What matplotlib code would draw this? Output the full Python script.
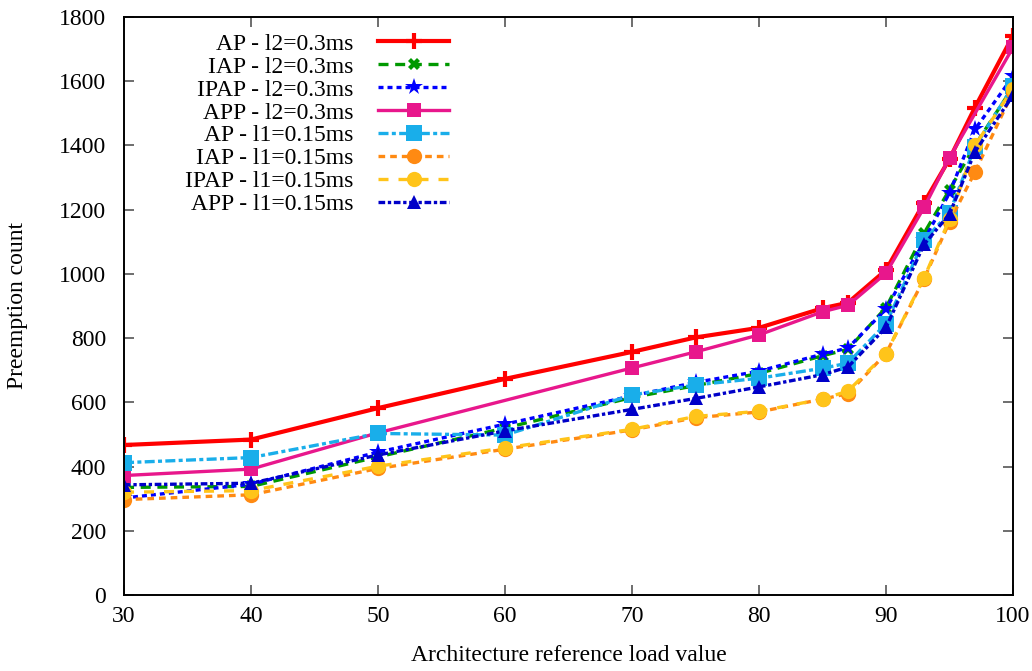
import matplotlib
matplotlib.use("Agg")
import matplotlib.pyplot as plt

plt.rcParams['font.family'] = ['Liberation Serif', 'DejaVu Serif']

load = [30, 40, 50, 60, 70, 75, 80, 85, 87, 90, 93, 95, 97, 100]
load_app_l2 = [30, 40, 50, 70, 75, 80, 85, 87, 90, 93, 95, 100]

ap_l2 = [467, 484, 582, 673, 757, 802, 832, 893, 910, 1012, 1222, 1358, 1518, 1742]
iap_l2 = [335, 338, 430, 520, 615, 652, 690, 745, 765, 895, 1127, 1262, 1400, 1582]
ipap_l2 = [302, 345, 445, 532, 620, 662, 697, 750, 769, 890, 1105, 1252, 1450, 1615]
app_l2 = [372, 392, 505, 707, 757, 810, 882, 902, 1002, 1207, 1362, 1705]
ap_l1 = [412, 428, 503, 498, 623, 654, 675, 706, 722, 845, 1105, 1190, 1395, 1585]
iap_l1 = [297, 312, 394, 454, 514, 552, 570, 610, 627, 752, 985, 1162, 1317, 1567]
ipap_l1 = [320, 325, 401, 458, 516, 556, 572, 610, 635, 752, 988, 1170, 1400, 1577]
app_l1 = [343, 348, 436, 511, 578, 612, 648, 686, 710, 833, 1092, 1186, 1380, 1556]

labels = ["AP - l2=0.3ms", "IAP - l2=0.3ms", "IPAP - l2=0.3ms", "APP - l2=0.3ms",
          "AP - l1=0.15ms", "IAP - l1=0.15ms", "IPAP - l1=0.15ms", "APP - l1=0.15ms"]

fig = plt.figure(figsize=(10.32, 6.71), dpi=100)
ax = fig.add_axes([0.1202, 0.1133, 0.8614, 0.8614])

styles = [
    dict(color='#ff0000', ls='-', marker='+', ms=12, mew=3, lw=3.0),
    dict(color='#009900', ls=(0, (3, 2)), marker='X', ms=9, mew=0, lw=2.4),
    dict(color='#0000ff', ls=(0, (1.5, 1.2)), marker='*', ms=13, mew=0, lw=2.4),
    dict(color='#e8178c', ls='-', marker='s', ms=10, mew=0, lw=2.4),
    dict(color='#19aeea', ls=(0, (3, 1, 1.2, 1)), marker='s', ms=11, mew=0, lw=2.4),
    dict(color='#ff8a12', ls=(0, (2, 1.5)), marker='o', ms=11, mew=0, lw=2.4),
    dict(color='#ffc41a', ls=(0, (3, 3)), marker='o', ms=11, mew=0, lw=2.4),
    dict(color='#0000c8', ls=(0, (2, 0.8, 1, 0.8)), marker='^', ms=10, mew=0, lw=2.4),
]
series = [(load, ap_l2), (load, iap_l2), (load, ipap_l2), (load_app_l2, app_l2),
          (load, ap_l1), (load, iap_l1), (load, ipap_l1), (load, app_l1)]

for (xs, ys), st, lab in zip(series, styles, labels):
    ax.plot(xs, ys, label=lab, **st)

ax.set_xlim(30, 100)
ax.set_ylim(0, 1800)
ax.set_xticks(range(30, 101, 10))
ax.set_yticks(range(0, 1801, 200))
ax.tick_params(direction='in', length=7, width=1.2, color='#555555',
               top=True, right=True, labelsize=17)
ax.tick_params(axis='y', pad=13)
ax.tick_params(axis='x', pad=8)
for s in ax.spines.values():
    s.set_linewidth(1.4)
    s.set_color('black')

ax.set_xlabel("Architecture reference load value", fontsize=17)
ax.set_ylabel("Preemption count", fontsize=17)
ax.xaxis.set_label_coords(0.5, -0.087)
ax.yaxis.set_label_coords(-0.108, 0.5)

ax.legend(loc='upper right', bbox_to_anchor=(0.3656, 0.972), frameon=False,
          markerfirst=False, fontsize=17, handlelength=3.0, handletextpad=1.05,
          labelspacing=0.06, borderpad=0, borderaxespad=0, numpoints=1)

fig.savefig("out.png", dpi=100)
